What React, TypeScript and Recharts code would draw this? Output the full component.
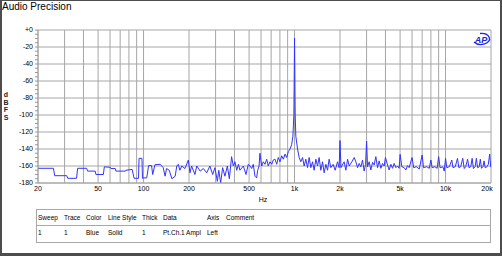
import React from 'react';
import { LineChart, Line, XAxis, YAxis, CartesianGrid, ReferenceLine } from 'recharts';

// FFT trace in four bands (Hz / dBFS)
const lowFreq = [20, 25.3, 25.8, 31, 31.5, 36, 36.6, 42, 42.6, 47.8, 48.4, 54.2, 55, 60.2, 60.8, 65, 65.6, 76, 76.4, 84, 86.6, 92.6, 93.4, 97.6, 98.4];
const lowDb = [-162.7, -162.7, -171.4, -171.4, -174.5, -174.5, -162.7, -162.7, -166, -166, -170, -170, -161, -161.5, -163, -163, -166, -166, -165, -164, -174.5, -174.5, -151, -151, -174.5];

const midFreq = [100, 105, 108, 113, 115, 119, 129, 135, 139, 142, 148, 154, 162, 166, 170, 174, 179, 188, 198, 203, 208, 219, 225, 237, 249, 262, 275, 287, 297, 308, 315, 324, 334, 346, 359, 370, 383, 393, 403, 414, 425, 435, 458, 477, 494];
const midDb = [-174, -174, -159.5, -159.5, -170, -158.5, -158, -162, -172, -163, -165, -175, -172, -160, -158, -165, -160, -163, -153, -168, -160, -170, -160, -166, -163, -168, -160, -170, -162, -178, -165, -180, -162, -172, -160, -175, -149, -160, -155, -165, -158, -165, -160, -170, -158];

const toneFreq = [507, 520, 533, 547, 561, 570, 582, 590, 606, 621, 637, 654, 670, 687, 706, 723, 742, 762, 780, 801, 822, 843, 865, 887, 910, 933, 957, 975, 990, 1000, 1010, 1020, 1047, 1073, 1101, 1130, 1158, 1188, 1219, 1249, 1282, 1316, 1348, 1384, 1420, 1455, 1493, 1533, 1571, 1612, 1654, 1694, 1739, 1801, 1858, 1927, 1974, 2000, 2030, 2056, 2130, 2187, 2245, 2300, 2397, 2484];
const toneDb = [-160, -163, -158, -172, -174, -165, -160, -145, -160, -155, -158, -152, -160, -155, -158, -153, -152, -158, -150, -155, -148, -152, -146, -150, -143, -140, -135, -125, -100, -9.5, -100, -125, -140, -150, -155, -150, -160, -152, -162, -150, -162, -155, -165, -152, -160, -150, -165, -155, -168, -158, -165, -152, -162, -158, -165, -155, -162, -130, -162, -160, -155, -165, -152, -160, -155, -150];

const highFreq = [2547, 2614, 2678, 2748, 2820, 2890, 2953, 3000, 3044, 3119, 3201, 3286, 3367, 3454, 3545, 3634, 3729, 3827, 3922, 4000, 4130, 4232, 4343, 4457, 4567, 4688, 4810, 4929, 5000, 5135, 5319, 5458, 5602, 5741, 6000, 6150, 6400, 6700, 7000, 7150, 7500, 7800, 8000, 8150, 8500, 8800, 9000, 9200, 9600, 9800, 10000, 10200, 10600, 11000, 11200, 11600, 12000, 12250, 12600, 13000, 13300, 13600, 14000, 14300, 14700, 15000, 15300, 15700, 16000, 16300, 16700, 17000, 17300, 17700, 18000, 18300, 18800, 19200, 19600, 19900, 20000];
const highDb = [-155, -162, -157, -161, -153, -166, -158, -130.6, -161, -155, -164.7, -155.7, -158.8, -149, -162, -154, -162.7, -157, -160, -150, -158.8, -164.7, -158, -162.7, -157, -162, -160, -162.7, -146.3, -160.8, -162, -164.7, -159.6, -162, -150, -162, -160.8, -163.5, -147, -162, -160.8, -162.7, -153, -162, -160.8, -162.7, -149, -162, -161, -166, -151, -162, -160.8, -153, -162, -160.8, -151, -162, -160.8, -151, -163, -160.8, -152, -162, -160.8, -151, -163, -160.8, -151, -162, -161, -152, -162.7, -160.8, -154, -162, -161, -158, -146, -161, -160.8];

// axes
const gridFreqs = [20, 30, 40, 50, 60, 70, 80, 90, 100, 200, 300, 400, 500, 600, 700, 800, 900, 1000, 2000, 3000, 4000, 5000, 6000, 7000, 8000, 9000, 10000, 20000];
const labeledFreqs = [20, 50, 100, 200, 500, 1000, 2000, 5000, 10000, 20000];
const freqLabels = ['20', '50', '100', '200', '500', '1k', '2k', '5k', '10k', '20k'];
const majorDb = [0, -20, -40, -60, -80, -100, -120, -140, -160, -180];
const minorDb = [0, -5, -10, -15, -20, -25, -30, -35, -40, -45, -50, -55, -60, -65, -70, -75, -80, -85, -90, -95, -100, -105, -110, -115, -120, -125, -130, -135, -140, -145, -150, -155, -160, -165, -170, -175, -180];

// legend table
const tableHeads = ['Sweep', 'Trace', 'Color', 'Line Style', 'Thick', 'Data', 'Axis', 'Comment'];
const tableRow = ['1', '1', 'Blue', 'Solid', '1', 'Pt.Ch.1 Ampl', 'Left', ''];
const tableCols = [38, 64, 86, 108, 142, 163, 207, 226];

const font = 'Arial, "Liberation Sans", Helvetica, sans-serif';
const gridColor = '#a6a6a6';

const freqs = [...lowFreq, ...midFreq, ...toneFreq, ...highFreq];
const levels = [...lowDb, ...midDb, ...toneDb, ...highDb];
const data = freqs.map((f, i) => ({ f, db: levels[i] }));

const XTick = (props: any) => {
  const { x, y, payload } = props;
  const i = labeledFreqs.indexOf(payload.value);
  if (i < 0) return <g />;
  const shift = payload.value === 20000 ? -4 : 0;
  return (
    <text x={x + shift} y={y} dy="0.71em" textAnchor="middle" fontSize={7} fontFamily={font} fill="#000">
      {freqLabels[i]}
    </text>
  );
};

const YTick = (props: any) => {
  const { x, y, payload } = props;
  if (payload.value % 20 !== 0) return <g />;
  const label = payload.value === 0 ? '+0' : String(payload.value);
  return (
    <text x={x} y={y} dy="0.35em" textAnchor="end" fontSize={7} fontFamily={font} fill="#000">
      {label}
    </text>
  );
};

const Overlay = () => (
  <svg width={502} height={256} style={{ position: 'absolute', left: 0, top: 0, pointerEvents: 'none' }}>
    <text x={2} y={10} fontSize={10} fontFamily={font} fill="#000">Audio Precision</text>

    {['d', 'B', 'F', 'S'].map((ch, i) => (
      <text key={ch} x={6} y={97 + i * 7.7} textAnchor="middle" fontSize={7} fontWeight="bold" fontFamily={font} fill="#222">
        {ch}
      </text>
    ))}
    <text x={263} y={201.5} textAnchor="middle" fontSize={7} fontFamily={font} fill="#000">Hz</text>

    {/* AP logo */}
    <g>
      <path d="M474 42 A8.5 5.5 0 1 0 480 33.5" fill="none" stroke="#2323e6" strokeWidth={1.3} />
      <text x={481} y={42.5} textAnchor="middle" fontSize={9} fontWeight="bold" fontStyle="italic" fontFamily={font} fill="#2323e6">AP</text>
    </g>

    {/* legend table */}
    <rect x={36.5} y={209.5} width={454} height={33} fill="none" stroke="#a8a8a8" />
    <line x1={36.5} x2={490.5} y1={225.5} y2={225.5} stroke="#a8a8a8" />
    {tableHeads.map((h, i) => (
      <text key={h} x={tableCols[i]} y={220} fontSize={6.5} fontFamily={font} fill="#000">{h}</text>
    ))}
    {tableRow.map((v, i) => (
      <text key={i} x={tableCols[i]} y={235} fontSize={6.5} fontFamily={font} fill="#000">{v}</text>
    ))}
  </svg>
);

export default function App() {
  return (
    <div style={{ position: 'absolute', left: 0, top: 0, width: 502, height: 256, background: '#fff', overflow: 'hidden' }}>
      <LineChart width={502} height={200} data={data} margin={{ top: 30, right: 11, bottom: 3, left: 8 }}>
        <CartesianGrid horizontal={false} stroke={gridColor} />
        <XAxis
          dataKey="f"
          type="number"
          scale="log"
          domain={[20, 20000]}
          ticks={gridFreqs}
          interval={0}
          allowDataOverflow
          height={14}
          tickSize={0}
          tickMargin={3}
          tickLine={false}
          axisLine={{ stroke: gridColor }}
          tick={<XTick />}
        />
        <YAxis
          type="number"
          domain={[-180, 0]}
          ticks={minorDb}
          interval={0}
          allowDataOverflow
          width={30}
          tickSize={3}
          tickMargin={2}
          tickLine={{ stroke: '#999' }}
          axisLine={{ stroke: gridColor }}
          tick={<YTick />}
        />
        {majorDb.map((v) => (
          <ReferenceLine key={v} y={v} stroke={gridColor} ifOverflow="visible" />
        ))}
        <Line
          type="linear"
          dataKey="db"
          stroke="#3333ff"
          strokeWidth={1}
          dot={false}
          isAnimationActive={false}
        />
      </LineChart>
      <Overlay />
      <div
        style={{
          position: 'absolute',
          left: 0,
          top: 0,
          width: 502,
          height: 256,
          boxSizing: 'border-box',
          borderLeft: '2px solid #4d4d4d',
          borderTop: '1px solid #4d4d4d',
          borderRight: '2px solid #4d4d4d',
          borderBottom: '3px solid #4d4d4d',
          pointerEvents: 'none',
        }}
      />
    </div>
  );
}
